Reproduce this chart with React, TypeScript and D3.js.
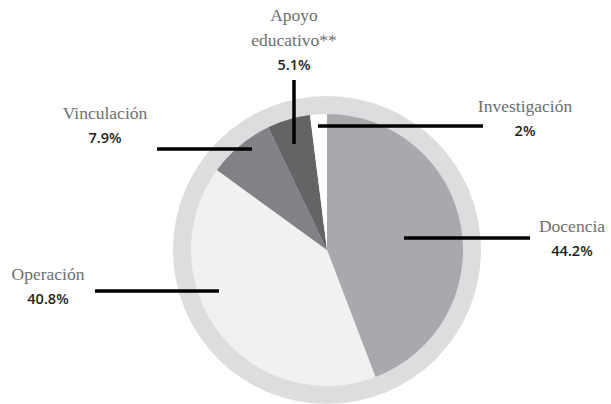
import React, { useEffect, useRef } from 'react';
import * as d3 from 'd3';

// Distribución del gasto por función
const categories = ['Docencia', 'Operación', 'Vinculación', 'Apoyo educativo**', 'Investigación'];
const values = [44.2, 40.8, 7.9, 5.1, 2];
const valueLabels = ['44.2%', '40.8%', '7.9%', '5.1%', '2%'];
const colors = ['#a7a9ac', '#f1f1f2', '#808285', '#636466', '#ffffff'];

// label layout (relative to pie centre): leader line + text block
const layout: Record<string, { line: [number, number, number, number]; tx: number; ty: number; lines: string[] }> = {
  'Docencia': { line: [77, -12, 203, -12], tx: 245, ty: -24, lines: ['Docencia'] },
  'Operación': { line: [-232, 41, -108, 41], tx: -279, ty: 24, lines: ['Operación'] },
  'Vinculación': { line: [-170, -101, -75, -101], tx: -222, ty: -137, lines: ['Vinculación'] },
  'Apoyo educativo**': { line: [-33, -170, -33, -106], tx: -33, ty: -235, lines: ['Apoyo', 'educativo**'] },
  'Investigación': { line: [-9, -124, 156, -124], tx: 198, ty: -144, lines: ['Investigación'] },
};

const App: React.FC = () => {
  const svgRef = useRef<SVGSVGElement>(null);

  useEffect(() => {
    if (!svgRef.current) return;
    document.body.style.margin = '0';
    const svg = d3.select(svgRef.current);
    svg.selectAll('*').remove();

    const width = 611;
    const height = 404;
    const cx = 327;
    const cy = 250;
    const rOuter = 154;
    const rPie = 136;

    const g = svg.append('g').attr('transform', `translate(${cx},${cy})`);

    // outer ring
    g.append('circle').attr('r', rOuter).attr('fill', '#dcdddf');

    const pie = d3.pie<number>().sort(null).value((d) => d)(values);
    const arc = d3.arc<d3.PieArcDatum<number>>().innerRadius(0).outerRadius(rPie);

    g.selectAll('path.slice')
      .data(pie)
      .enter().append('path')
      .attr('class', 'slice')
      .attr('d', arc)
      .attr('fill', (_, i) => colors[i]);

    // leader lines + labels
    categories.forEach((name, i) => {
      const l = layout[name];
      g.append('line')
        .attr('x1', l.line[0]).attr('y1', l.line[1])
        .attr('x2', l.line[2]).attr('y2', l.line[3])
        .attr('stroke', '#000').attr('stroke-width', 3.5);

      const t = g.append('g').attr('transform', `translate(${l.tx},${l.ty})`);
      l.lines.forEach((s, k) => {
        t.append('text')
          .attr('x', 0).attr('y', k * 25 + 6)
          .attr('text-anchor', 'middle')
          .style('font-family', "'Liberation Serif', 'DejaVu Serif', serif")
          .style('font-size', '17.5px')
          .attr('fill', '#6d6e71')
          .text(s);
      });
      t.append('text')
        .attr('x', 0).attr('y', l.lines.length * 25 + 5)
        .attr('text-anchor', 'middle')
        .style('font-family', "'Open Sans', sans-serif")
        .style('font-weight', '600')
        .style('font-size', '14.5px')
        .attr('fill', '#231f20')
        .text(valueLabels[i]);
    });

    svg.attr('viewBox', `0 0 ${width} ${height}`);
  }, []);

  return (
    <div style={{ position: 'absolute', left: 0, top: 0, width: 611, height: 404, background: '#fff' }}>
      <svg ref={svgRef} width={611} height={404} />
    </div>
  );
};

export default App;
